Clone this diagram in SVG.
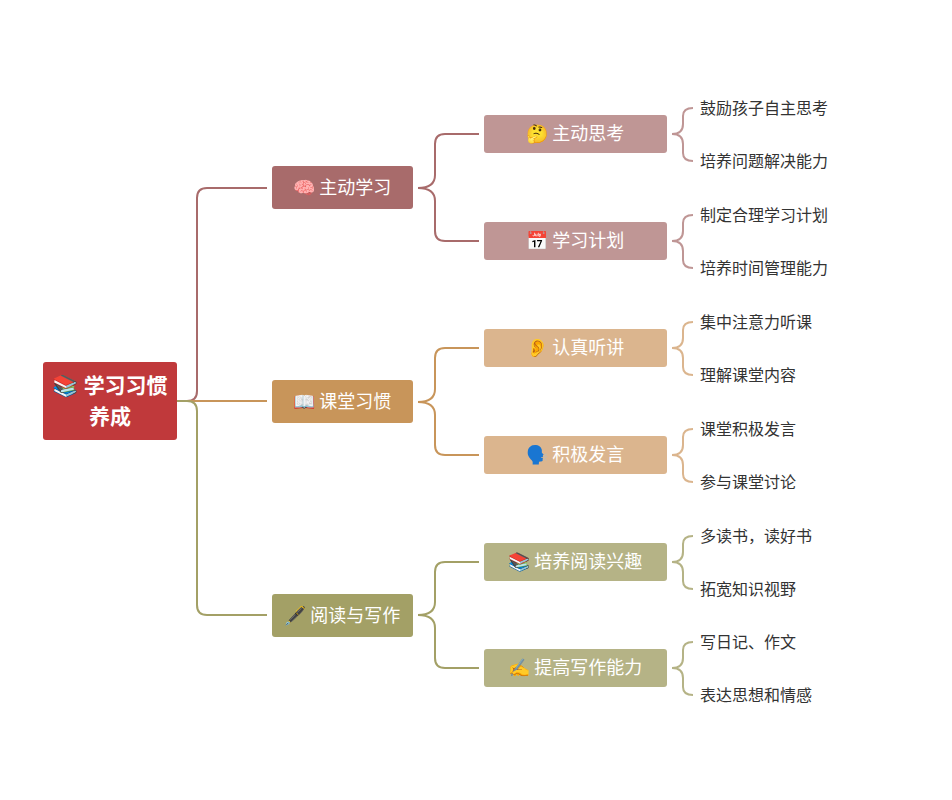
<svg xmlns="http://www.w3.org/2000/svg" width="952" height="800" viewBox="0 0 952 800">
<style>
text{font-family:"Liberation Serif","Noto Sans CJK SC",serif;}
.n{fill:#fff;font-size:18px;text-anchor:middle;dominant-baseline:central}
.r{fill:#fff;font-size:21px;font-weight:bold;text-anchor:middle;dominant-baseline:central}
.lf{fill:#333;font-size:16px;dominant-baseline:central}
.c{fill:none;stroke-width:2}
</style>
<rect width="952" height="800" fill="#fff"/>
<g id="connectors">
<path class="c" stroke="#a86b6b" d="M177,401 H187 Q197,401 197,391 V198 Q197,188 207,188 H267"/>
<path class="c" stroke="#c8955a" d="M177,401 H267"/>
<path class="c" stroke="#a3a066" d="M177,401 H187 Q197,401 197,411 V605 Q197,615 207,615 H267"/>
<path class="c" stroke="#a86b6b" d="M418,188 Q435,188 435,175 V144 Q435,134 445,134 H479 M418,188 Q435,188 435,201 V231 Q435,241 445,241 H479"/>
<path class="c" stroke="#c8955a" d="M418,402 Q435,402 435,389 V358 Q435,348 445,348 H479 M418,402 Q435,402 435,415 V445 Q435,455 445,455 H479"/>
<path class="c" stroke="#a3a066" d="M418,615 Q435,615 435,602 V572 Q435,562 445,562 H479 M418,615 Q435,615 435,628 V658 Q435,668 445,668 H479"/>
<g stroke="#bf9695" class="c">
<path class="c" d="M672,134 Q683,134 683,124 V116 Q683,108 693,108 M672,134 Q683,134 683,144 V153 Q683,161 693,161"/>
<path class="c" d="M672,241 Q683,241 683,231 V223 Q683,215 693,215 M672,241 Q683,241 683,251 V260 Q683,268 693,268"/>
</g>
<g stroke="#dbb58e" class="c">
<path class="c" d="M672,348 Q683,348 683,338 V330 Q683,322 693,322 M672,348 Q683,348 683,358 V367 Q683,375 693,375"/>
<path class="c" d="M672,455 Q683,455 683,445 V437 Q683,429 693,429 M672,455 Q683,455 683,465 V474 Q683,482 693,482"/>
</g>
<g stroke="#b5b386" class="c">
<path class="c" d="M672,562 Q683,562 683,552 V544 Q683,536 693,536 M672,562 Q683,562 683,572 V581 Q683,589 693,589"/>
<path class="c" d="M672,668 Q683,668 683,658 V650 Q683,642 693,642 M672,668 Q683,668 683,678 V687 Q683,695 693,695"/>
</g>
</g>
<g id="root"><rect x="43" y="362" width="134" height="78" rx="3" fill="#c0393b"/><text class="r" x="110" y="386">📚 学习习惯</text><text class="r" x="110" y="417">养成</text></g>
<g id="n1"><rect x="272" y="166" width="141" height="43" rx="3" fill="#a86b6b"/><text class="n" x="342" y="188">🧠 主动学习</text></g>
<g id="n2"><rect x="272" y="380" width="141" height="43" rx="3" fill="#c8955a"/><text class="n" x="342" y="402">📖 课堂习惯</text></g>
<g id="n3"><rect x="272" y="594" width="141" height="43" rx="3" fill="#a3a066"/><text class="n" x="342" y="616">🖋️ 阅读与写作</text></g>
<g id="n11"><rect x="484" y="115" width="183" height="38" rx="3" fill="#bf9695"/><text class="n" x="575" y="134">🤔 主动思考</text></g>
<g id="n12"><rect x="484" y="222" width="183" height="38" rx="3" fill="#bf9695"/><text class="n" x="575" y="241">📅 学习计划</text></g>
<g id="n21"><rect x="484" y="329" width="183" height="38" rx="3" fill="#dbb58e"/><text class="n" x="575" y="348">👂 认真听讲</text></g>
<g id="n22"><rect x="484" y="436" width="183" height="38" rx="3" fill="#dbb58e"/><text class="n" x="575" y="455">🗣️ 积极发言</text></g>
<g id="n31"><rect x="484" y="543" width="183" height="38" rx="3" fill="#b5b386"/><text class="n" x="575" y="562">📚 培养阅读兴趣</text></g>
<g id="n32"><rect x="484" y="649" width="183" height="38" rx="3" fill="#b5b386"/><text class="n" x="575" y="668">✍️ 提高写作能力</text></g>
<g id="leaves">
<text class="lf" x="700" y="108">鼓励孩子自主思考</text>
<text class="lf" x="700" y="161">培养问题解决能力</text>
<text class="lf" x="700" y="215">制定合理学习计划</text>
<text class="lf" x="700" y="268">培养时间管理能力</text>
<text class="lf" x="700" y="322">集中注意力听课</text>
<text class="lf" x="700" y="375">理解课堂内容</text>
<text class="lf" x="700" y="429">课堂积极发言</text>
<text class="lf" x="700" y="482">参与课堂讨论</text>
<text class="lf" x="700" y="536">多读书，读好书</text>
<text class="lf" x="700" y="589">拓宽知识视野</text>
<text class="lf" x="700" y="642">写日记、作文</text>
<text class="lf" x="700" y="695">表达思想和情感</text>
</g>
</svg>
